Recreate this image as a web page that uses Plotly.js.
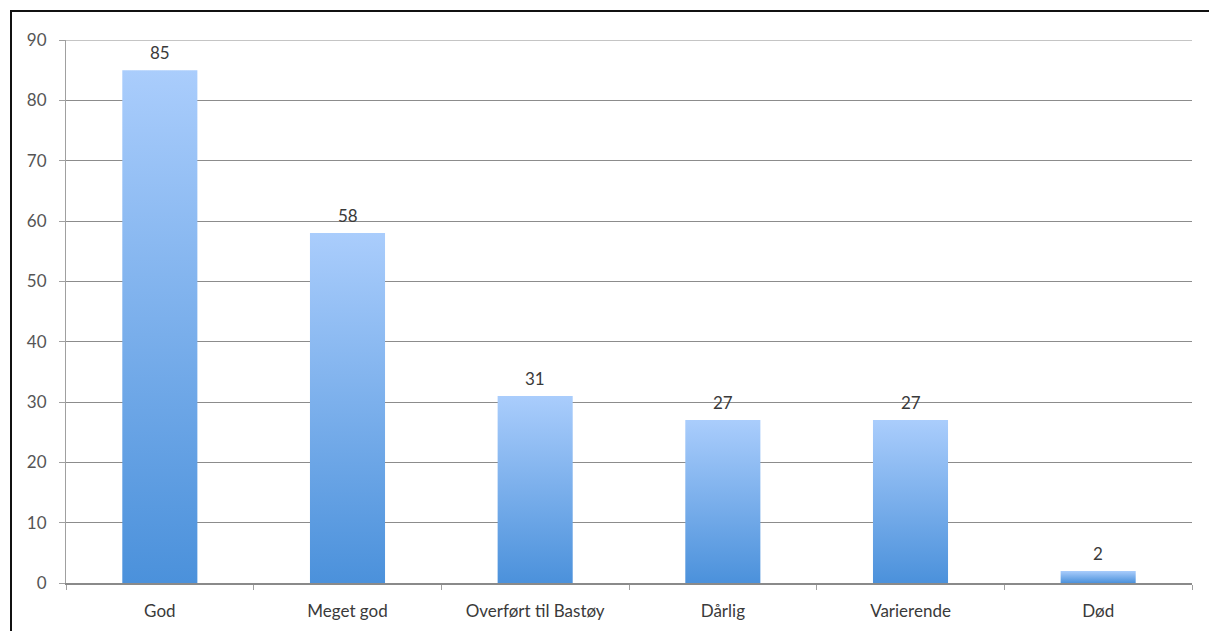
<!DOCTYPE html>
<html>
<head>
<meta charset="utf-8">
<script src="https://cdn.plot.ly/plotly-3.0.1.min.js"></script>
<style>
  html, body { margin: 0; padding: 0; background: #fff; }
  #wrap { position: relative; width: 1209px; height: 631px; }
  #chart { width: 1209px; height: 631px; }
  #frame { position: absolute; left: 10px; top: 10px; right: 0; bottom: 0;
           border-top: 2px solid #111; border-left: 2px solid #111; pointer-events: none; }
</style>
</head>
<body>
<div id="wrap"><div id="chart"></div><div id="frame"></div></div>
<script>
const categories = ["God", "Meget god", "Overført til Bastøy", "Dårlig", "Varierende", "Død"];
const values = [85, 58, 31, 27, 27, 2];
const yTicks = [0, 10, 20, 30, 40, 50, 60, 70, 80, 90];
const yMax = 90;

const font = "Lato, 'Open Sans', 'Liberation Sans', sans-serif";

const trace = {
  type: "bar",
  x: categories,
  y: values,
  marker: { color: "#79b0ee", line: { width: 0 } },
  hoverinfo: "x+y"
};

const annotations = categories.map((c, i) => ({
  x: c, y: values[i], xref: "x", yref: "y",
  text: String(values[i]), showarrow: false,
  yanchor: "bottom", yshift: 5,
  font: { family: font, size: 17, color: "#3a3a3a" }
}));

const layout = {
  width: 1209, height: 631,
  margin: { l: 66, r: 17, t: 40, b: 48 },
  paper_bgcolor: "#ffffff", plot_bgcolor: "#ffffff",
  showlegend: false,
  bargap: 0.6,
  font: { family: font, size: 17, color: "#444" },
  xaxis: {
    type: "category",
    showline: true, linecolor: "#8a8a8a", linewidth: 1.5,
    showgrid: false, zeroline: false,
    ticks: "outside", tickson: "boundaries", ticklen: 5, tickcolor: "#a0a0a0",
    ticklabelstandoff: 12,
    tickfont: { family: font, size: 17, color: "#3a3a3a" }
  },
  yaxis: {
    range: [0, yMax],
    tickvals: yTicks,
    ticktext: yTicks.map(String),
    showline: true, linecolor: "#a0a0a0", linewidth: 1,
    showgrid: true, gridcolor: "#8c8c8c", gridwidth: 1,
    zeroline: false,
    ticks: "outside", ticklen: 6, tickcolor: "#a0a0a0",
    ticklabelstandoff: 9,
    tickfont: { family: font, size: 17, color: "#555" }
  },
  shapes: [{
    type: "line", xref: "paper", yref: "y", x0: 0, x1: 1, y0: yMax, y1: yMax,
    line: { color: "#8c8c8c", width: 1 }, layer: "below"
  }],
  annotations: annotations
};

Plotly.newPlot("chart", [trace], layout, { displayModeBar: false }).then(gd => {
  const svg = gd.querySelector("svg.main-svg");
  const ns = "http://www.w3.org/2000/svg";
  let defs = svg.querySelector("defs");
  if (!defs) { defs = document.createElementNS(ns, "defs"); svg.insertBefore(defs, svg.firstChild); }
  const grad = document.createElementNS(ns, "linearGradient");
  grad.setAttribute("id", "barGrad");
  grad.setAttribute("x1", "0"); grad.setAttribute("y1", "0");
  grad.setAttribute("x2", "0"); grad.setAttribute("y2", "1");
  const s1 = document.createElementNS(ns, "stop");
  s1.setAttribute("offset", "0"); s1.setAttribute("stop-color", "#aacdfc");
  const s2 = document.createElementNS(ns, "stop");
  s2.setAttribute("offset", "1"); s2.setAttribute("stop-color", "#4b91db");
  grad.appendChild(s1); grad.appendChild(s2);
  defs.appendChild(grad);
  gd.querySelectorAll(".barlayer .point path").forEach(p => {
    p.style.fill = "url(#barGrad)";
    p.style.fillOpacity = "1";
  });
});
</script>
</body>
</html>
